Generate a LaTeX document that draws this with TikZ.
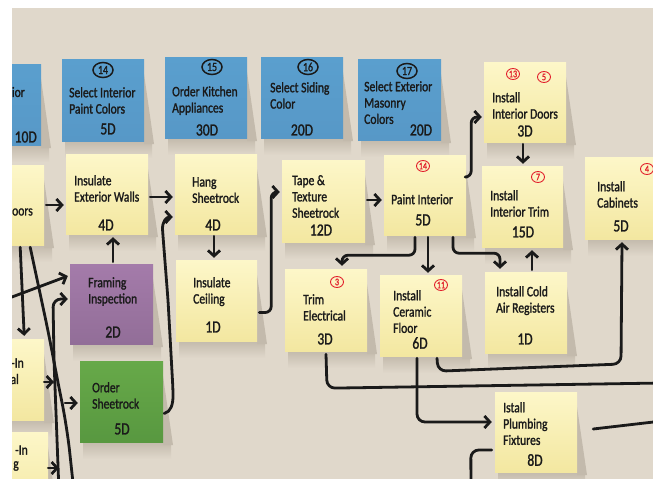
\documentclass[tikz,border=0pt]{standalone}
\usepackage{fontspec}
\setmainfont{Carlito}[FakeStretch=0.8,FakeBold=1.4]
\usetikzlibrary{arrows.meta,fit,calc,shapes.geometric}
\definecolor{bg}{HTML}{E0D8CB}
\definecolor{shd}{HTML}{C3BAAC}
\definecolor{ink}{HTML}{1A1A1A}
\definecolor{redink}{HTML}{E2202C}
\definecolor{yTop}{HTML}{FDF7C9}
\definecolor{yMid}{HTML}{FBF2B8}
\definecolor{yBot}{HTML}{F3E7A0}
\definecolor{bTop}{HTML}{5A9FCE}
\definecolor{bMid}{HTML}{6EB9E5}
\definecolor{bBot}{HTML}{5798C7}
\definecolor{pTop}{HTML}{A47BAA}
\definecolor{pMid}{HTML}{B089B6}
\definecolor{pBot}{HTML}{926E98}
\definecolor{gTop}{HTML}{67A949}
\definecolor{gMid}{HTML}{8BC466}
\definecolor{gBot}{HTML}{589840}
\newcommand{\notesh}[4]{%
  \shade[top color=shd, bottom color=bg] (#1+3,#4) rectangle (#3+8,#4+17);
  \fill[shd] (#3,#2+15) -- (#3+10,#4+3) -- (#3,#4+3) -- cycle;}
\tikzset{
  notebox/.style={inner sep=0pt, draw=none},
  ynote/.style={notebox, top color=yTop, middle color=yMid, bottom color=yBot},
  bnote/.style={notebox, top color=bTop, middle color=bMid, bottom color=bBot},
  pnote/.style={notebox, top color=pTop, middle color=pMid, bottom color=pBot},
  gnote/.style={notebox, top color=gTop, middle color=gMid, bottom color=gBot},
  ntxt/.style={inner sep=0pt, anchor=north west, align=left, text=ink,
    font=\fontsize{14.5}{16.3}\selectfont},
  etxt/.style={inner sep=0pt, anchor=east, text=ink, font=\fontsize{14.5}{16.3}\selectfont},
  dur/.style={inner sep=0pt, text=ink, font=\fontsize{17}{18}\selectfont},
  redc/.style={ellipse, draw=redink, text=redink, line width=0.9pt, inner sep=0pt,
    minimum width=13pt, minimum height=11pt, font=\fontsize{10}{10}\selectfont},
  blkc/.style={ellipse, draw=ink, text=ink, line width=1.5pt, inner sep=0pt,
    minimum width=20pt, minimum height=15pt, font=\fontsize{12.5}{13}\selectfont},
  conn/.style={draw=ink, line width=2.8pt, line cap=round, line join=round,
    rounded corners=6pt},
  arr/.style={conn, -{Straight Barb[length=5.5pt,width=12pt]}},
}
\begin{document}
\begin{tikzpicture}[x=1pt,y=-1pt]
\useasboundingbox (0,0) rectangle (653,479);
\fill[white] (0,0) rectangle (653,479);
\fill[bg] (12,8) rectangle (653,479);
\begin{scope}
\clip (12,8) rectangle (653,479);
% shadows
\notesh{-40}{64}{41}{145}
\notesh{62}{59}{144}{141}
\notesh{165}{57}{247}{138}
\notesh{261}{57}{343}{138}
\notesh{358}{59}{441}{140}
\notesh{-40}{165}{44}{245}
\notesh{66}{154}{148}{234}
\notesh{175}{154}{257}{234}
\notesh{176}{260}{257}{341}
\notesh{282}{160}{365}{242}
\notesh{384}{155}{466}{235}
\notesh{484}{62}{566}{142}
\notesh{482}{166}{563}{247}
\notesh{585}{157}{667}{239}
\notesh{285}{269}{367}{351}
\notesh{380}{275}{462}{356}
\notesh{485}{272}{567}{353}
\notesh{495}{392}{577}{472}
\notesh{70}{264}{153}{344}
\notesh{80}{361}{163}{442}
\notesh{-40}{339}{44}{420}
\notesh{-36}{432}{48}{514}
% notes
\node[bnote, fit={(-40,64) (41,145)}] (b13) {};
\node[bnote, fit={(62,59) (144,141)}] (b14) {};
\node[bnote, fit={(165,57) (247,138)}] (b15) {};
\node[bnote, fit={(261,57) (343,138)}] (b16) {};
\node[bnote, fit={(358,59) (441,140)}] (b17) {};
\node[ynote, fit={(-40,165) (44,245)}] (doorsL) {};
\node[ynote, fit={(66,154) (148,234)}] (insext) {};
\node[ynote, fit={(175,154) (257,234)}] (hang) {};
\node[ynote, fit={(176,260) (257,341)}] (ceil) {};
\node[ynote, fit={(282,160) (365,242)}] (tape) {};
\node[ynote, fit={(384,155) (466,235)}] (paint) {};
\node[ynote, fit={(484,62) (566,142)}] (idoors) {};
\node[ynote, fit={(482,166) (563,247)}] (itrim) {};
\node[ynote, fit={(585,157) (667,239)}] (cab) {};
\node[ynote, fit={(285,269) (367,351)}] (trimel) {};
\node[ynote, fit={(380,275) (462,356)}] (ceram) {};
\node[ynote, fit={(485,272) (567,353)}] (cold) {};
\node[ynote, fit={(495,392) (577,472)}] (plumb) {};
\node[pnote, fit={(70,264) (153,344)}] (frame) {};
\node[gnote, fit={(80,361) (163,442)}] (order) {};
\node[ynote, fit={(-40,339) (44,420)}] (inal) {};
\node[ynote, fit={(-36,432) (48,514)}] (ing) {};
% texts
\node[etxt] (b13t) at (25,92) {rior};
\node[etxt, font=\fontsize{17}{18}\selectfont] (b13d) at (37,137) {10D};
\node[blkc] (b14c) at (103,70) {14};
\node[ntxt] (b14t) at (69,87) {Select Interior\\Paint Colors};
\node[dur] (b14d) at (108,129) {5D};
\node[blkc] (b15c) at (212,67) {15};
\node[ntxt] (b15t) at (172,86) {Order Kitchen\\Appliances};
\node[dur] (b15d) at (207,130) {30D};
\node[blkc] (b16c) at (308,67) {16};
\node[ntxt] (b16t) at (270,82) {Select Siding\\Color};
\node[dur] (b16d) at (302,130) {20D};
\node[blkc] (b17c) at (407,71) {17};
\node[ntxt] (b17t) at (364,81) {Select Exterior\\Masonry\\Colors};
\node[dur] (b17d) at (421,130) {20D};
\node[etxt] (doorsLt) at (33,212) {oors};
\node[ntxt] (insextt) at (74,175) {Insulate\\Exterior Walls};
\node[dur] (insextd) at (106,225) {4D};
\node[ntxt] (hangt) at (192,177) {Hang\\Sheetrock};
\node[dur] (hangd) at (213,225) {4D};
\node[ntxt] (ceilt) at (193,277) {Insulate\\Ceiling};
\node[dur] (ceild) at (213,327) {1D};
\node[ntxt] (tapet) at (292,175) {Tape \&\\Texture\\Sheetrock};
\node[dur] (taped) at (321,230) {12D};
\node[redc] (paintc) at (423,166) {14};
\node[ntxt] (paintt) at (391,194) {Paint Interior};
\node[dur] (paintd) at (423,220) {5D};
\node[redc] (idoorsc1) at (513,74) {13};
\node[redc] (idoorsc2) at (544,77) {5};
\node[ntxt] (idoorst) at (492,92) {Install\\Interior Doors};
\node[dur] (idoorsd) at (525,131) {3D};
\node[redc] (itrimc) at (538,177) {7};
\node[ntxt] (itrimt) at (490,190) {Install\\Interior Trim};
\node[dur] (itrimd) at (523,232) {15D};
\node[redc] (cabc) at (647,169) {4};
\node[ntxt] (cabt) at (597,181) {Install\\Cabinets};
\node[dur] (cabd) at (621,226) {5D};
\node[redc] (trimelc) at (337,282) {3};
\node[ntxt] (trimelt) at (303,294) {Trim\\Electrical};
\node[dur] (trimeld) at (325,339) {3D};
\node[redc] (ceramc) at (441,285) {11};
\node[ntxt] (ceramt) at (393,290) {Install\\Ceramic\\Floor};
\node[dur] (ceramd) at (420,343) {6D};
\node[ntxt] (coldt) at (496,286) {Install Cold\\Air Registers};
\node[dur] (coldd) at (525,339) {1D};
\node[ntxt] (plumbt) at (503,402) {Istall\\Plumbing\\Fixtures};
\node[dur] (plumbd) at (535,460) {8D};
\node[ntxt] (framet) at (88,277) {Framing\\Inspection};
\node[dur] (framed) at (113,332) {2D};
\node[ntxt] (ordert) at (92,382) {Order\\Sheetrock};
\node[dur] (orderd) at (122,429) {5D};
\node[etxt] (inalt1) at (24,363) {-In};
\node[etxt] (inalt2) at (19,379) {al};
\node[etxt] (ingt1) at (28,450) {-In};
\node[etxt] (ingt2) at (19,466) {g};
% free ends
\coordinate (offR1) at (662,383);
\coordinate (offR2) at (662,421);
\coordinate (offB1) at (471,492);
\coordinate (offB2) at (74,492);
\coordinate (offB3) at (59,492);
\coordinate (offL1) at (4,300);
\coordinate (tipA) at (54,382);
\coordinate (tailF) at (65,403);
\coordinate (tipG) at (59,468);
% connectors
\draw[arr] ($(doorsL.east)+(2,0)$) -- ($(doorsL.east -| insext.west)+(-2,0)$);
\draw[arr] ($(insext.east)+(2,3)$) -- ($(hang.west)+(-2,3)$);
\draw[arr] ($(frame.north)+(1.5,-2)$) -- ($(frame.north |- insext.south)+(1.5,3)$);
\draw[arr] ($(hang.south)+(-2,2)$) -- ($(hang.south |- ceil.north)+(-2,-2)$);
\draw[arr] ($(ceil.east)+(2,12)$) -- ++(12,0) |- ($(tape.west)+(-2,-9)$);
\draw[arr] ($(tape.east)+(2,-1)$) -- ($(tape.east -| paint.west)+(-2,-1)$);
\draw[arr] ($(paint.east)+(1,-18)$) -- ++(4,0) |- ($(idoors.west)+(-2,15)$);
\draw[arr] ($(idoors.south)+(-2,2)$) -- ($(idoors.south |- itrim.north)+(-2,-2)$);
\draw[arr] ($(paint.south)+(-10,2)$) -- ++(0,18) -| ($(trimel.north)+(16,-3)$);
\draw[arr] ($(paint.south)+(3,2)$) -- ($(paint.south |- ceram.north)+(3,-2)$);
\draw[arr] ($(paint.south)+(28,2)$) -- ++(0,16) -| ($(cold.north)+(-26,-3)$);
\draw[arr] ($(cold.north)+(6,-2)$) -- ($(cold.north |- itrim.south)+(6,3)$);
\draw[arr, rounded corners=8pt] ($(ceram.south)+(16,2)$) -- ++(1,13) -- (621,364) -- ($(cab.south)+(-4,3)$);
\draw[conn, rounded corners=8pt] ($(trimel.south)+(0,3)$) -- ++(1,34) -- (offR1);
\draw[arr, rounded corners=8pt] ($(ceram.south)+(-4,2)$) |- ($(plumb.west)+(-3,-10)$);
\draw[conn] ($(plumb.east)+(16,-3)$) -- (offR2);
\draw[conn, rounded corners=8pt] ($(plumb.west)+(-3,18)$) -- ++(-21,0) -- (offB1);
\draw[arr] ($(order.east)+(1,12)$) .. controls (171,412) and (173,404) .. (173,390)
  -- (168,300) -- (163,236) .. controls (162,222) and (166,217) .. ($(hang.west)+(-2,23)$);
\draw[arr, rounded corners=0pt] ($(doorsL.south east)+(-24,2)$) -- ($(inal.north east)+(-20,-3)$);
\draw[conn, rounded corners=25pt] ($(doorsL.south east)+(-14,2)$) -- (50,340) -- (57,378) -- (67,427) -- (offB2);
\draw[arr, rounded corners=8pt] (offB3) -- (54,360) -- (53,299) -- ($(frame.west)+(-2,-5)$);
\draw[arr] (offL1) -- ($(frame.west)+(-2,-28)$);
\draw[arr] ($(inal.east)+(0,2.5)$) -- (tipA);
\draw[arr] (tailF) -- ($(order.west)+(-2,1.5)$);
\draw[arr] ($(ing.east)+(0,-5)$) -- (tipG);
\end{scope}
\end{tikzpicture}
\end{document}
